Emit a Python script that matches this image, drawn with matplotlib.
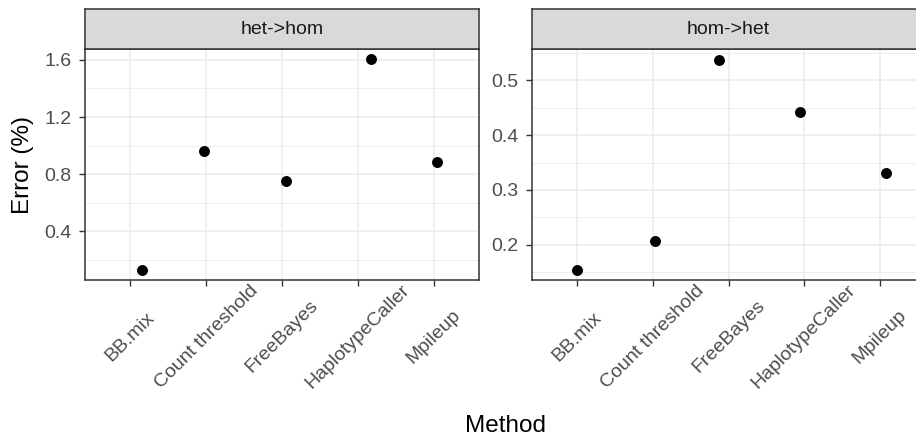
import matplotlib
matplotlib.use("Agg")
from matplotlib import pyplot as plt
from matplotlib.ticker import MultipleLocator
import numpy as np

plt.rcParams['font.family'] = ['Liberation Sans', 'DejaVu Sans']

methods = ['BB.mix', 'Count threshold', 'FreeBayes', 'HaplotypeCaller', 'Mpileup']
panels = ['het->hom', 'hom->het']

# error (%) per method
err_het_hom = [0.133, 0.96, 0.751, 1.603, 0.884]
err_hom_het = [0.155, 0.207, 0.538, 0.442, 0.331]

# horizontal jitter of each point (category units)
jitter_het_hom = [0.15, -0.03, 0.05, 0.17, 0.04]
jitter_hom_het = [-0.01, 0.03, -0.13, -0.06, 0.09]

major_step = [0.4, 0.1]

W, H = 916, 443
fig = plt.figure(figsize=(W / 100, H / 100), dpi=100)

panel_top, panel_bot = 49, 280
strip_top = 9
boxes = [(85, 479), (532, 925)]

BORDER = '#333333'
GRID = '#ebebeb'


def fx(px):
    return px / W


def fy(py):
    return 1 - py / H


def expanded(vals, mult=0.05):
    lo, hi = min(vals), max(vals)
    pad = (hi - lo) * mult
    return lo - pad, hi + pad


for (x0, x1), name, errs, jit, step in zip(
        boxes, panels, [err_het_hom, err_hom_het],
        [jitter_het_hom, jitter_hom_het], major_step):
    ax = fig.add_axes([fx(x0), fy(panel_bot), fx(x1 - x0), fy(panel_top) - fy(panel_bot)])
    pos = np.arange(1, len(methods) + 1)
    ax.scatter(pos + np.array(jit), errs, s=62, color='black', zorder=3, linewidths=0)

    ax.set_xlim(0.4, len(methods) + 0.6)
    ax.set_ylim(*expanded(errs))
    ax.set_xticks(pos)
    ax.set_xticklabels(methods, rotation=45, ha='center', va='center',
                       rotation_mode='anchor')
    ax.yaxis.set_major_locator(MultipleLocator(step))
    ax.yaxis.set_minor_locator(MultipleLocator(step / 2))
    ax.yaxis.set_major_formatter(plt.FormatStrFormatter('%.1f'))

    ax.grid(True, which='major', color=GRID, linewidth=1.1, zorder=0)
    ax.grid(True, which='minor', axis='y', color=GRID, linewidth=0.6, zorder=0)
    ax.set_axisbelow(True)

    ax.tick_params(axis='x', which='major', length=4, width=1.0, color=BORDER,
                   labelsize=14, labelcolor='#4d4d4d', pad=37)
    ax.tick_params(axis='y', which='major', length=4, width=1.0, color=BORDER,
                   labelsize=14, labelcolor='#4d4d4d', pad=5.5)
    ax.tick_params(which='minor', length=0)
    for sp in ax.spines.values():
        sp.set_color(BORDER)
        sp.set_linewidth(1.1)

    strip = fig.add_axes([fx(x0), fy(panel_top), fx(x1 - x0), fy(strip_top) - fy(panel_top)])
    strip.set_facecolor('#d9d9d9')
    strip.set_xticks([])
    strip.set_yticks([])
    for sp in strip.spines.values():
        sp.set_color(BORDER)
        sp.set_linewidth(1.1)
    strip.text(0.5, 0.5, name, transform=strip.transAxes, ha='center', va='center',
               fontsize=14, color='#1a1a1a')

fig.text(fx(23), (fy(panel_top) + fy(panel_bot)) / 2, 'Error (%)', rotation=90,
         ha='center', va='center', fontsize=17.5, color='black')
fig.text(fx((boxes[0][0] + boxes[1][1]) / 2), fy(426), 'Method',
         ha='center', va='center', fontsize=17.5, color='black')

fig.savefig('out.png', dpi=100)
